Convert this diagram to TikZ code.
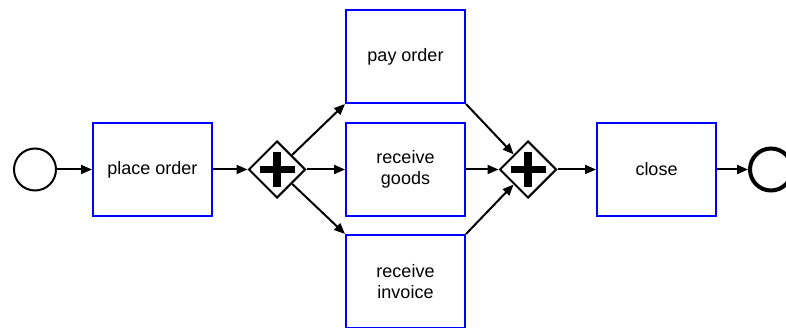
\documentclass[tikz,border=0pt]{standalone}
\usepackage{fontspec}
\setmainfont{Liberation Sans}
\usetikzlibrary{arrows.meta,shapes.geometric}
\begin{document}
\begin{tikzpicture}[x=1pt,y=-1pt,
  task/.style={draw=blue, line width=2pt, fill=white, minimum width=119pt, minimum height=93pt,
    inner sep=0pt, align=center, font=\fontsize{18}{21}\selectfont},
  gate/.style={draw, diamond, line width=2pt, fill=white, minimum width=57pt, minimum height=57pt, inner sep=0pt},
  flow/.style={draw, line width=2pt, -{Triangle[length=11pt,width=9pt]}},
  plusbar/.style={line width=7.5pt}
]
\useasboundingbox (0,0) rectangle (786,328);

% events
\node[draw, circle, line width=2pt, minimum size=42pt, inner sep=0pt] (start) at (35,169.5) {};
\node[draw, circle, line width=4pt, minimum size=42pt, inner sep=0pt] (stop) at (771,169.5) {};

% tasks
\node[task] (place) at (152.5,169.5) {place order};
\node[task] (pay) at (405.5,56.5) {pay order};
\node[task] (goods) at (405.5,169.5) {receive\\goods};
\node[task] (invoice) at (405.5,281.5) {receive\\invoice};
\node[task] (close) at (656.5,169.5) {close};

% parallel gateways
\node[gate] (split) at (277,169.5) {};
\node[gate] (join) at (528,169.5) {};
\foreach \g in {split,join}{
  \draw[plusbar] ([xshift=-17.5pt]\g.center) -- ([xshift=17.5pt]\g.center);
  \draw[plusbar] ([yshift=-17.5pt]\g.center) -- ([yshift=17.5pt]\g.center);
}

% sequence flows
\draw[flow] (start) -- (place);
\draw[flow] (place) -- (split);
\draw[flow] (split) -- (pay.south west);
\draw[flow] (split) -- (goods);
\draw[flow] (split) -- (invoice.north west);
\draw[flow] (pay.south east) -- (join);
\draw[flow] (goods) -- (join);
\draw[flow] (invoice.north east) -- (join);
\draw[flow] (join) -- (close);
\draw[flow] (close) -- (stop);
\end{tikzpicture}
\end{document}
